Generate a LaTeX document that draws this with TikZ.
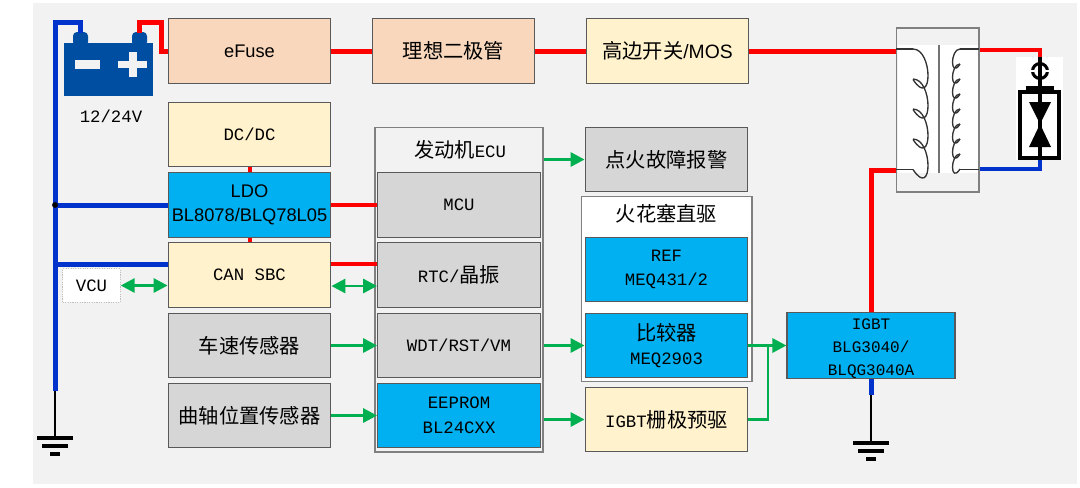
\documentclass[tikz,border=0pt]{standalone}
\usepackage{fontspec}
\usepackage{xcolor}
\usetikzlibrary{arrows.meta}
\setmonofont{Liberation Mono}
\setsansfont{Liberation Sans}
\newfontfamily\cjkfont{Noto Sans CJK SC}
\newcommand{\zh}[1]{{\cjkfont\fontsize{15.2}{18}\selectfont #1}}
\definecolor{bg gray}{HTML}{F2F2F2}
\definecolor{box peach}{HTML}{F8D7BC}
\definecolor{box cream}{HTML}{FFF2CC}
\definecolor{box gray}{HTML}{D6D6D6}
\definecolor{box blue}{HTML}{00B0F0}
\definecolor{wire red}{HTML}{FF0000}
\definecolor{wire blue}{HTML}{0033CC}
\definecolor{wire green}{HTML}{00B050}
\definecolor{bat blue}{HTML}{004EA2}
\tikzset{
    block/.style={draw=black!65, line width=0.85pt, minimum width=122pt, minimum height=48.5pt,
        inner sep=0pt, align=center, font=\ttfamily\fontsize{13}{18.5}\selectfont},
    peach/.style={block, fill=box peach},
    cream/.style={block, fill=box cream},
    grayblock/.style={block, fill=box gray},
    blueblock/.style={block, fill=box blue},
    sanstext/.style={font=\sffamily\fontsize{13.7}{18.5}\selectfont},
    group/.style={draw=black!50, line width=1pt, inner sep=0pt},
    redwire/.style={draw=wire red, line width=3.75pt},
    thinred/.style={draw=wire red, line width=3pt},
    bluewire/.style={draw=wire blue, line width=3.75pt},
    gndwire/.style={draw=black, line width=2pt},
    sig/.style={draw=wire green, line width=2.2pt, -{Triangle[length=10.5pt,width=10.5pt]}},
    bisig/.style={draw=wire green, line width=2.2pt, {Triangle[length=10.5pt,width=10.5pt]}-{Triangle[length=10.5pt,width=10.5pt]}},
    coil/.style={draw=black!80, line width=1pt},
    plug/.style={draw=black, line width=2.3pt}
}
\begin{document}
\begin{tikzpicture}[x=0.75pt,y=-0.75pt]
    \useasboundingbox (0,0) rectangle (1080,487);
    \fill[bg gray] (33,3) rectangle (1077,484);

    % battery
    \fill[bat blue] (64,43) rectangle (153,96);
    \fill[bat blue, rounded corners=3pt] (73,32) rectangle (88,46);
    \fill[bat blue, rounded corners=3pt] (132,32) rectangle (147,46);
    \fill[bg gray] (75,60) rectangle (100,69);
    \fill[bg gray] (118,61) rectangle (147,68);
    \fill[bg gray] (129,52) rectangle (137,77);
    \coordinate (batminus) at (80.5,33);
    \coordinate (batplus) at (139.5,33);
    \node[font=\ttfamily\fontsize{13}{16}\selectfont] (batlabel) at (111,116) {12/24V};

    % left column
    \node[peach, sanstext] (efuse) at (249.5,51) {eFuse};
    \node[cream] (dcdc) at (249.5,134.5) {DC/DC};
    \node[blueblock, sanstext] (ldo) at (249.5,205) {LDO\\BL8078/BLQ78L05};
    \node[cream] (cansbc) at (249.5,275) {CAN SBC};
    \node[grayblock] (speed) at (249.5,345.5) {\zh{车速传感器}};
    \node[grayblock] (crank) at (249.5,415.5) {\zh{曲轴位置传感器}};
    \node[draw=black!25, densely dotted, line width=0.8pt, fill=white, minimum width=43pt, minimum height=25pt,
        inner sep=0pt, font=\ttfamily\fontsize{13}{16}\selectfont] (vcu) at (91.5,285.5) {VCU};

    % top row
    \node[peach] (diode) at (453.5,51) {\zh{理想二极管}};
    \node[cream] (hsw) at (667.5,51) {\zh{高边开关}{\sffamily\fontsize{14.5}{16}\selectfont/MOS}};

    % engine ECU
    \node[group, fill=bg gray, minimum width=126pt, minimum height=243.5pt] (ecu) at (459,289.5) {};
    \node[inner sep=0pt, font=\ttfamily\fontsize{13}{16}\selectfont] (ecutitle) at (460,150) {\zh{发动机}ECU};
    \node[grayblock] (mcu) at (459,205) {MCU};
    \node[grayblock] (rtc) at (459,275) {RTC/\zh{晶振}};
    \node[grayblock] (wdt) at (459,345.5) {WDT/RST/VM};
    \node[blueblock] (eeprom) at (459,415.5) {EEPROM\\BL24CXX};

    % right of ECU
    \node[grayblock] (alarm) at (666.5,159.5) {\zh{点火故障报警}};
    \node[group, fill=white, minimum width=128pt, minimum height=139pt] (sparkdrv) at (666.5,289) {};
    \node[inner sep=0pt] (sparktitle) at (666.5,214) {\zh{火花塞直驱}};
    \node[blueblock] (ref) at (666.5,269.5) {REF\\MEQ431/2};
    \node[blueblock] (comp) at (666.5,345.5) {\zh{比较器}\\MEQ2903};
    \node[cream] (predrv) at (666.5,419.5) {IGBT\zh{栅极预驱}};
    \node[blueblock, minimum width=126pt, font=\ttfamily\fontsize{12}{17.5}\selectfont] (igbt) at (871,345.5) {\rule{0pt}{12.5pt}IGBT\\BLG3040/\\BLQG3040A};

    % transformer
    \node[group, minimum width=62pt, minimum height=123pt] (xfmr) at (937.5,110) {};
    \fill[white] (898,45) rectangle (978,173);
    \draw[draw=black!55, line width=1.5pt] (939,45) -- (939,173);
    \draw[coil] (896,49) -- (913,49);
    \foreach \y in {49,79,109,139}
        \draw[coil] (913,\y) .. controls +(20,0) and +(20,30.5) .. +(0,30.5);
    \draw[coil] (896,169.5) -- (913,169.5);
    \draw[coil] (979,49) -- (960,49);
    \foreach \y in {49,64,79,94,109,124,139,154}
        \draw[coil] (960,\y) .. controls +(-10,0) and +(-10,15.1) .. +(0,15.1);
    \draw[coil] (979,169.5) -- (960,169.5);
    \coordinate (pritop) at (xfmr.west |- 0,51);
    \coordinate (pribot) at (xfmr.west |- 0,170);
    \coordinate (sectop) at (xfmr.east |- 0,50);
    \coordinate (secbot) at (xfmr.east |- 0,169);

    % spark plug
    \fill[white] (1016,57) rectangle (1063,160);
    \coordinate (plugtop) at (1040,57);
    \coordinate (plugbot) at (1040,160);
    \draw[plug] (1040,71) circle (5.6pt);
    \draw[white, line width=1.1pt] (1030,71) -- (1037,71) (1043,71) -- (1050,71);
    \draw[plug] (plugtop) -- (plugbot);
    \draw[plug] (1020,92) rectangle (1059,158);
    \draw[plug] (1028,92) -- (1028,88) -- (1052,88) -- (1052,92);
    \fill[black] (1029,102) -- (1051,102) -- (1040,124) -- cycle;
    \fill[black] (1040,124) -- (1029,147) -- (1051,147) -- cycle;

    % grounds
    \coordinate (gndleft) at (55,438);
    \coordinate (gndright) at (871,443);
    \foreach \g in {gndleft,gndright} {
        \fill[black] ([xshift=-13.5pt,yshift=-1.5pt]\g) rectangle ([xshift=13.5pt,yshift=1.5pt]\g);
        \fill[black] ([xshift=-9.5pt,yshift=-7.5pt]\g) rectangle ([xshift=9.5pt,yshift=-4.5pt]\g);
        \fill[black] ([xshift=-4pt,yshift=-13.5pt]\g) rectangle ([xshift=4pt,yshift=-10.5pt]\g);
    }

    % power wires
    \coordinate (busbot) at (55,391);
    \coordinate (busldo) at (55,205);
    \coordinate (buscan) at (55,264);
    \coordinate (igbtgnd) at (871,395);
    \draw[bluewire] (batminus) |- (55,22) -- (busbot);
    \draw[bluewire] (busldo) -- (ldo.west);
    \draw[bluewire] (buscan) -- (cansbc.west |- buscan);
    \fill[black] (busldo) circle (2.2pt);
    \draw[gndwire] (busbot) -- (gndleft);
    \draw[redwire] (batplus) |- (161,22) |- (efuse.west);
    \draw[redwire] (efuse) -- (diode);
    \draw[redwire] (diode) -- (hsw);
    \draw[redwire] (hsw) -- (pritop);
    \draw[thinred] (dcdc) -- (ldo);
    \draw[thinred] (ldo) -- (cansbc);
    \draw[thinred] (ldo) -- (mcu);
    \coordinate (rtcin) at (rtc.west |- 0,264);
    \draw[thinred] (cansbc.east |- rtcin) -- (rtcin);
    \draw[redwire] (pribot) -| (871,230) -- (igbt.north);
    \draw[thinred] (sectop) -| (plugtop);
    \draw[draw=wire blue, line width=3pt] (secbot) -| (plugbot);
    \draw[bluewire] (igbt.south) -- (igbtgnd);
    \draw[gndwire] (igbtgnd) -- (gndright);

    % signals
    \draw[bisig] (vcu.east) -- (cansbc.west |- vcu.east);
    \draw[bisig] (cansbc.east |- 0,286) -- (rtc.west |- 0,286);
    \draw[sig] (speed) -- (wdt);
    \draw[sig] (crank) -- (eeprom);
    \draw[sig] (ecu.east |- alarm) -- (alarm);
    \draw[sig] (ecu.east |- comp) -- (comp);
    \draw[sig] (ecu.east |- predrv) -- (predrv);
    \draw[sig] (comp) -- (igbt);
    \draw[draw=wire green, line width=2.2pt] (predrv.east) -| (768,345.5);
\end{tikzpicture}
\end{document}
